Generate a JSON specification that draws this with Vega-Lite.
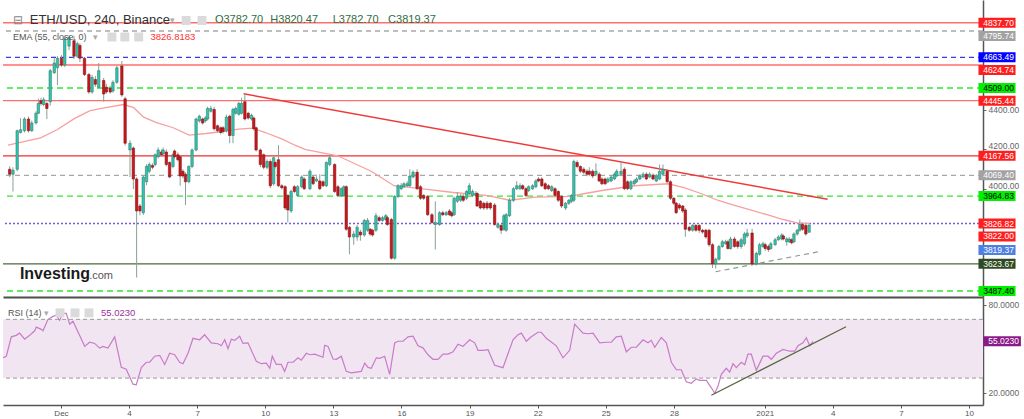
{
"$schema": "https://vega.github.io/schema/vega-lite/v6.json",
"padding": 0,
"background": "#ffffff",
"spacing": 0,
"config": {"view": {"stroke": null}, "font": "Liberation Sans", "concat": {"spacing": 0}},
"datasets": {
"levels": [
{"p":4837.70,"kind":"red"},{"p":4795.74,"kind":"grey"},{"p":4663.49,"kind":"blue"},{"p":4624.74,"kind":"red"},{"p":4509.00,"kind":"green"},{"p":4445.44,"kind":"red"},{"p":4167.56,"kind":"red1"},{"p":4069.40,"kind":"grey"},{"p":3964.83,"kind":"green"},{"p":3826.82,"kind":"dotted"},{"p":3623.67,"kind":"dark"},{"p":3487.40,"kind":"green"}
],
"tags": [
{"p":4837.70,"kind":"red"},{"p":4795.74,"kind":"grey"},{"p":4663.49,"kind":"blue"},{"p":4624.74,"kind":"red"},{"p":4509.00,"kind":"green"},{"p":4445.44,"kind":"red"},{"p":4167.56,"kind":"red"},{"p":4069.40,"kind":"grey"},{"p":3964.83,"kind":"green"},{"p":3826.82,"kind":"red"},{"p":3822.00,"kind":"red"},{"p":3819.37,"kind":"price"},{"p":3623.67,"kind":"dark"},{"p":3487.40,"kind":"green"}
],
"trends": [
{"name":"res","t":190.3,"p":4480},{"name":"res","t":814.1,"p":3949},
{"name":"sup","t":694.6,"p":3584},{"name":"sup","t":805.6,"p":3686}
],
"ema": [
{"t":-61.3,"p":4221},{"t":-26.4,"p":4258},{"t":-8.5,"p":4300},{"t":9.5,"p":4355},{"t":26.4,"p":4395},{"t":44.4,"p":4411},{"t":62.4,"p":4426},{"t":73.0,"p":4410},{"t":83.5,"p":4362},{"t":97.3,"p":4335},{"t":115.2,"p":4309},{"t":132.2,"p":4272},{"t":150.1,"p":4280},{"t":168.1,"p":4290},{"t":185.0,"p":4302},{"t":199.8,"p":4307},{"t":213.6,"p":4285},{"t":231.6,"p":4252},{"t":245.3,"p":4221},{"t":255.9,"p":4200},{"t":290.8,"p":4168},{"t":326.7,"p":4090},{"t":351.0,"p":4017},{"t":379.6,"p":4002},{"t":414.5,"p":3983},{"t":449.4,"p":3968},{"t":474.7,"p":3944},{"t":502.2,"p":3960},{"t":538.2,"p":3963},{"t":555.1,"p":3978},{"t":573.1,"p":3993},{"t":608.0,"p":4017},{"t":643.9,"p":4027},{"t":660.8,"p":4007},{"t":678.8,"p":3978},{"t":696.8,"p":3944},{"t":713.7,"p":3920},{"t":731.7,"p":3895},{"t":749.6,"p":3871},{"t":766.6,"p":3847},{"t":781.4,"p":3830},{"t":795.1,"p":3826.8}
],
"candles": [
{"t":-59.5,"o":4100,"h":4115,"l":4060,"c":4075},
{"t":-56.0,"o":4075,"h":4110,"l":3988,"c":4095},
{"t":-51.5,"o":4100,"h":4300,"l":4090,"c":4294},
{"t":-47.9,"o":4285,"h":4357,"l":4280,"c":4299},
{"t":-43.7,"o":4294,"h":4362,"l":4285,"c":4353},
{"t":-39.4,"o":4353,"h":4365,"l":4285,"c":4294},
{"t":-35.9,"o":4294,"h":4345,"l":4288,"c":4333},
{"t":-31.4,"o":4333,"h":4392,"l":4325,"c":4382},
{"t":-28.9,"o":4382,"h":4455,"l":4377,"c":4431},
{"t":-26.1,"o":4445,"h":4460,"l":4420,"c":4431},
{"t":-23.3,"o":4426,"h":4462,"l":4418,"c":4450},
{"t":-19.8,"o":4431,"h":4440,"l":4353,"c":4406},
{"t":-16.2,"o":4440,"h":4605,"l":4420,"c":4596},
{"t":-11.9,"o":4586,"h":4659,"l":4580,"c":4635},
{"t":-8.5,"o":4611,"h":4670,"l":4523,"c":4659},
{"t":-4.2,"o":4659,"h":4675,"l":4615,"c":4625},
{"t":-0.7,"o":4625,"h":4767,"l":4615,"c":4757},
{"t":3.9,"o":4720,"h":4775,"l":4700,"c":4762},
{"t":9.2,"o":4747,"h":4772,"l":4655,"c":4669},
{"t":12.7,"o":4669,"h":4742,"l":4660,"c":4732},
{"t":15.5,"o":4723,"h":4735,"l":4640,"c":4659},
{"t":20.4,"o":4659,"h":4665,"l":4570,"c":4577},
{"t":25.1,"o":4577,"h":4585,"l":4480,"c":4489},
{"t":28.5,"o":4489,"h":4575,"l":4480,"c":4562},
{"t":32.0,"o":4552,"h":4570,"l":4515,"c":4528},
{"t":35.6,"o":4513,"h":4635,"l":4505,"c":4596},
{"t":40.9,"o":4547,"h":4560,"l":4440,"c":4479},
{"t":43.7,"o":4513,"h":4530,"l":4480,"c":4489},
{"t":47.9,"o":4508,"h":4520,"l":4480,"c":4489},
{"t":50.8,"o":4494,"h":4548,"l":4485,"c":4538},
{"t":55.0,"o":4538,"h":4620,"l":4530,"c":4611},
{"t":60.3,"o":4620,"h":4645,"l":4465,"c":4474},
{"t":63.8,"o":4455,"h":4465,"l":4220,"c":4231},
{"t":69.0,"o":4197,"h":4246,"l":4061,"c":4231},
{"t":72.6,"o":4207,"h":4215,"l":4000,"c":4051},
{"t":76.1,"o":4051,"h":4060,"l":3555,"c":3890},
{"t":79.6,"o":3915,"h":3925,"l":3868,"c":3890},
{"t":83.2,"o":3881,"h":4070,"l":3870,"c":4061},
{"t":86.7,"o":4037,"h":4125,"l":4020,"c":4114},
{"t":89.6,"o":4090,"h":4135,"l":4080,"c":4124},
{"t":93.0,"o":4119,"h":4130,"l":4100,"c":4110},
{"t":95.9,"o":4124,"h":4180,"l":4115,"c":4173},
{"t":99.1,"o":4163,"h":4210,"l":4155,"c":4197},
{"t":102.6,"o":4187,"h":4200,"l":4165,"c":4173},
{"t":104.4,"o":4178,"h":4210,"l":4170,"c":4197},
{"t":107.8,"o":4187,"h":4200,"l":4115,"c":4124},
{"t":111.3,"o":4134,"h":4140,"l":4055,"c":4061},
{"t":114.9,"o":4114,"h":4180,"l":4105,"c":4173},
{"t":116.6,"o":4192,"h":4200,"l":4155,"c":4163},
{"t":120.2,"o":4173,"h":4185,"l":4140,"c":4148},
{"t":122.6,"o":4163,"h":4170,"l":4017,"c":4066},
{"t":125.5,"o":4090,"h":4100,"l":4055,"c":4066},
{"t":128.3,"o":4075,"h":4085,"l":3920,"c":4037},
{"t":131.8,"o":4037,"h":4120,"l":4030,"c":4114},
{"t":135.3,"o":4114,"h":4205,"l":4105,"c":4197},
{"t":139.6,"o":4197,"h":4360,"l":4190,"c":4353},
{"t":143.1,"o":4343,"h":4375,"l":4335,"c":4367},
{"t":146.6,"o":4353,"h":4360,"l":4325,"c":4333},
{"t":149.4,"o":4343,"h":4368,"l":4335,"c":4358},
{"t":151.9,"o":4353,"h":4415,"l":4345,"c":4406},
{"t":155.4,"o":4392,"h":4420,"l":4385,"c":4406},
{"t":158.9,"o":4401,"h":4415,"l":4295,"c":4304},
{"t":162.5,"o":4319,"h":4325,"l":4285,"c":4294},
{"t":166.0,"o":4309,"h":4315,"l":4275,"c":4285},
{"t":168.4,"o":4309,"h":4318,"l":4280,"c":4290},
{"t":172.0,"o":4294,"h":4375,"l":4285,"c":4363},
{"t":175.5,"o":4367,"h":4375,"l":4231,"c":4270},
{"t":179.0,"o":4270,"h":4410,"l":4231,"c":4401},
{"t":181.9,"o":4382,"h":4416,"l":4375,"c":4406},
{"t":185.3,"o":4377,"h":4440,"l":4370,"c":4431},
{"t":188.2,"o":4382,"h":4460,"l":4375,"c":4431},
{"t":191.7,"o":4440,"h":4479,"l":4345,"c":4353},
{"t":195.3,"o":4382,"h":4390,"l":4350,"c":4358},
{"t":198.8,"o":4353,"h":4380,"l":4345,"c":4372},
{"t":201.2,"o":4358,"h":4365,"l":4295,"c":4304},
{"t":203.7,"o":4309,"h":4315,"l":4190,"c":4197},
{"t":208.3,"o":4197,"h":4205,"l":4110,"c":4124},
{"t":211.8,"o":4173,"h":4180,"l":4100,"c":4110},
{"t":215.4,"o":4110,"h":4150,"l":4100,"c":4139},
{"t":218.9,"o":4139,"h":4150,"l":4005,"c":4017},
{"t":222.4,"o":4027,"h":4165,"l":4017,"c":4158},
{"t":224.1,"o":4134,"h":4140,"l":4105,"c":4114},
{"t":227.6,"o":4148,"h":4221,"l":4010,"c":4017},
{"t":231.2,"o":4017,"h":4025,"l":3998,"c":4007},
{"t":234.7,"o":4012,"h":4020,"l":3895,"c":3905},
{"t":237.6,"o":3968,"h":3975,"l":3832,"c":3895},
{"t":241.1,"o":3890,"h":3998,"l":3880,"c":3988},
{"t":244.6,"o":4012,"h":4020,"l":3980,"c":3988},
{"t":248.1,"o":3968,"h":4020,"l":3960,"c":4012},
{"t":252.4,"o":4012,"h":4070,"l":4005,"c":4061},
{"t":255.1,"o":4051,"h":4060,"l":3995,"c":4002},
{"t":261.2,"o":4002,"h":4100,"l":3995,"c":4090},
{"t":264.6,"o":4061,"h":4070,"l":4020,"c":4027},
{"t":268.2,"o":4041,"h":4065,"l":4035,"c":4051},
{"t":271.7,"o":4041,"h":4075,"l":3995,"c":4002},
{"t":275.2,"o":4037,"h":4045,"l":4010,"c":4017},
{"t":278.8,"o":4017,"h":4140,"l":4010,"c":4134},
{"t":282.3,"o":4124,"h":4173,"l":4115,"c":4158},
{"t":287.6,"o":4124,"h":4130,"l":3980,"c":3988},
{"t":291.1,"o":4012,"h":4020,"l":3960,"c":3968},
{"t":294.7,"o":3968,"h":4010,"l":3960,"c":4002},
{"t":297.4,"o":3968,"h":4020,"l":3960,"c":4012},
{"t":300.0,"o":4012,"h":4020,"l":3790,"c":3798},
{"t":303.4,"o":3808,"h":3815,"l":3672,"c":3759},
{"t":308.0,"o":3759,"h":3790,"l":3720,"c":3774},
{"t":311.6,"o":3759,"h":3820,"l":3740,"c":3808},
{"t":315.1,"o":3784,"h":3795,"l":3740,"c":3769},
{"t":319.3,"o":3769,"h":3850,"l":3760,"c":3842},
{"t":322.8,"o":3793,"h":3855,"l":3785,"c":3842},
{"t":325.6,"o":3798,"h":3805,"l":3765,"c":3774},
{"t":328.1,"o":3793,"h":3800,"l":3760,"c":3769},
{"t":331.7,"o":3793,"h":3880,"l":3785,"c":3866},
{"t":335.2,"o":3856,"h":3866,"l":3835,"c":3842},
{"t":338.7,"o":3842,"h":3866,"l":3835,"c":3856},
{"t":342.2,"o":3847,"h":3875,"l":3840,"c":3866},
{"t":343.9,"o":3856,"h":3866,"l":3815,"c":3822},
{"t":348.2,"o":3847,"h":3855,"l":3645,"c":3652},
{"t":351.8,"o":3652,"h":3970,"l":3645,"c":3963},
{"t":355.3,"o":3963,"h":4025,"l":3955,"c":4017},
{"t":358.7,"o":4002,"h":4030,"l":3995,"c":4017},
{"t":361.6,"o":4012,"h":4035,"l":4005,"c":4027},
{"t":365.1,"o":4017,"h":4040,"l":4010,"c":4027},
{"t":367.9,"o":4017,"h":4100,"l":4010,"c":4066},
{"t":371.4,"o":4061,"h":4095,"l":4055,"c":4085},
{"t":375.7,"o":4085,"h":4100,"l":3995,"c":4002},
{"t":379.3,"o":4012,"h":4020,"l":3945,"c":3954},
{"t":382.7,"o":3968,"h":3975,"l":3945,"c":3954},
{"t":387.0,"o":3963,"h":3970,"l":3865,"c":3871},
{"t":391.5,"o":3871,"h":3880,"l":3825,"c":3832},
{"t":395.1,"o":3822,"h":3939,"l":3696,"c":3832},
{"t":399.7,"o":3822,"h":3890,"l":3815,"c":3881},
{"t":403.1,"o":3881,"h":3890,"l":3865,"c":3871},
{"t":406.7,"o":3871,"h":3890,"l":3865,"c":3881},
{"t":410.2,"o":3890,"h":3900,"l":3865,"c":3871},
{"t":412.7,"o":3881,"h":3890,"l":3858,"c":3866},
{"t":415.2,"o":3871,"h":3962,"l":3865,"c":3954},
{"t":418.7,"o":3939,"h":3985,"l":3930,"c":3963},
{"t":422.2,"o":3944,"h":3975,"l":3935,"c":3963},
{"t":425.0,"o":3963,"h":3975,"l":3935,"c":3944},
{"t":428.5,"o":3954,"h":3995,"l":3945,"c":3988},
{"t":431.4,"o":3978,"h":4030,"l":3970,"c":4017},
{"t":434.9,"o":3968,"h":3998,"l":3960,"c":3988},
{"t":438.5,"o":3968,"h":3990,"l":3960,"c":3978},
{"t":439.8,"o":3978,"h":3985,"l":3910,"c":3915},
{"t":443.3,"o":3939,"h":3945,"l":3898,"c":3905},
{"t":446.9,"o":3929,"h":3935,"l":3895,"c":3905},
{"t":450.4,"o":3929,"h":3940,"l":3895,"c":3905},
{"t":453.9,"o":3929,"h":3935,"l":3895,"c":3905},
{"t":458.5,"o":3920,"h":3930,"l":3815,"c":3822},
{"t":462.0,"o":3808,"h":3830,"l":3800,"c":3822},
{"t":465.5,"o":3817,"h":3825,"l":3775,"c":3793},
{"t":468.4,"o":3798,"h":3875,"l":3790,"c":3866},
{"t":470.8,"o":3793,"h":3880,"l":3785,"c":3871},
{"t":474.4,"o":3866,"h":3955,"l":3860,"c":3944},
{"t":478.6,"o":3944,"h":4010,"l":3935,"c":4002},
{"t":482.1,"o":4002,"h":4040,"l":3995,"c":4017},
{"t":485.6,"o":4002,"h":4030,"l":3995,"c":4017},
{"t":488.5,"o":4017,"h":4025,"l":3995,"c":4002},
{"t":492.0,"o":4002,"h":4010,"l":3960,"c":3968},
{"t":494.8,"o":3993,"h":4020,"l":3985,"c":4012},
{"t":499.0,"o":4002,"h":4025,"l":3995,"c":4017},
{"t":502.5,"o":4012,"h":4050,"l":4005,"c":4041},
{"t":505.4,"o":4051,"h":4060,"l":4035,"c":4041},
{"t":508.9,"o":4051,"h":4060,"l":4010,"c":4017},
{"t":512.5,"o":4027,"h":4035,"l":3995,"c":4002},
{"t":516.0,"o":4017,"h":4025,"l":3995,"c":4002},
{"t":519.5,"o":3993,"h":4020,"l":3985,"c":4012},
{"t":523.0,"o":4002,"h":4010,"l":3960,"c":3968},
{"t":526.5,"o":3988,"h":3995,"l":3935,"c":3944},
{"t":530.0,"o":3963,"h":3970,"l":3905,"c":3915},
{"t":534.3,"o":3905,"h":3935,"l":3895,"c":3929},
{"t":537.8,"o":3929,"h":3950,"l":3920,"c":3944},
{"t":540.6,"o":3939,"h":3975,"l":3930,"c":3968},
{"t":543.1,"o":3944,"h":4148,"l":3935,"c":4139},
{"t":546.6,"o":4134,"h":4145,"l":4105,"c":4114},
{"t":550.1,"o":4114,"h":4120,"l":4080,"c":4090},
{"t":553.7,"o":4100,"h":4110,"l":4075,"c":4085},
{"t":557.2,"o":4090,"h":4100,"l":4065,"c":4075},
{"t":559.6,"o":4090,"h":4110,"l":4065,"c":4075},
{"t":563.2,"o":4090,"h":4100,"l":4055,"c":4066},
{"t":566.7,"o":4075,"h":4130,"l":4065,"c":4090},
{"t":570.2,"o":4075,"h":4085,"l":4035,"c":4041},
{"t":573.1,"o":4051,"h":4060,"l":4020,"c":4027},
{"t":576.5,"o":4051,"h":4058,"l":4020,"c":4027},
{"t":579.4,"o":4037,"h":4060,"l":4030,"c":4051},
{"t":582.9,"o":4041,"h":4070,"l":4035,"c":4061},
{"t":586.5,"o":4051,"h":4085,"l":4045,"c":4075},
{"t":588.9,"o":4066,"h":4100,"l":4060,"c":4090},
{"t":593.5,"o":4075,"h":4134,"l":4065,"c":4090},
{"t":597.1,"o":4100,"h":4110,"l":3995,"c":4002},
{"t":600.5,"o":4037,"h":4045,"l":3995,"c":4002},
{"t":604.0,"o":4002,"h":4045,"l":3995,"c":4037},
{"t":607.6,"o":4027,"h":4050,"l":4020,"c":4041},
{"t":610.1,"o":4037,"h":4060,"l":4030,"c":4051},
{"t":613.6,"o":4051,"h":4075,"l":4045,"c":4066},
{"t":617.1,"o":4061,"h":4085,"l":4055,"c":4075},
{"t":620.6,"o":4075,"h":4085,"l":4045,"c":4051},
{"t":624.1,"o":4061,"h":4085,"l":4055,"c":4075},
{"t":627.7,"o":4070,"h":4080,"l":4045,"c":4051},
{"t":631.2,"o":4041,"h":4075,"l":4035,"c":4066},
{"t":634.7,"o":4051,"h":4124,"l":4045,"c":4090},
{"t":638.3,"o":4075,"h":4124,"l":4065,"c":4100},
{"t":642.8,"o":4090,"h":4100,"l":4030,"c":4037},
{"t":646.3,"o":4037,"h":4045,"l":3945,"c":3954},
{"t":649.9,"o":3954,"h":3960,"l":3920,"c":3929},
{"t":652.4,"o":3929,"h":3935,"l":3875,"c":3881},
{"t":655.8,"o":3920,"h":3930,"l":3895,"c":3905},
{"t":659.4,"o":3915,"h":3920,"l":3880,"c":3890},
{"t":662.2,"o":3895,"h":3905,"l":3760,"c":3798},
{"t":666.4,"o":3808,"h":3815,"l":3785,"c":3793},
{"t":670.0,"o":3793,"h":3825,"l":3785,"c":3817},
{"t":673.5,"o":3817,"h":3825,"l":3785,"c":3793},
{"t":677.0,"o":3817,"h":3825,"l":3780,"c":3793},
{"t":680.6,"o":3793,"h":3800,"l":3775,"c":3784},
{"t":684.1,"o":3793,"h":3800,"l":3750,"c":3759},
{"t":687.6,"o":3793,"h":3800,"l":3710,"c":3720},
{"t":691.2,"o":3720,"h":3728,"l":3603,"c":3623},
{"t":694.6,"o":3623,"h":3655,"l":3600,"c":3647},
{"t":698.1,"o":3647,"h":3720,"l":3640,"c":3711},
{"t":701.7,"o":3711,"h":3745,"l":3705,"c":3735},
{"t":705.2,"o":3725,"h":3745,"l":3720,"c":3735},
{"t":707.7,"o":3735,"h":3745,"l":3695,"c":3701},
{"t":710.5,"o":3701,"h":3760,"l":3695,"c":3749},
{"t":714.7,"o":3749,"h":3760,"l":3705,"c":3711},
{"t":718.2,"o":3735,"h":3742,"l":3700,"c":3711},
{"t":721.8,"o":3711,"h":3755,"l":3700,"c":3745},
{"t":725.3,"o":3725,"h":3785,"l":3715,"c":3774},
{"t":728.2,"o":3764,"h":3800,"l":3755,"c":3779},
{"t":733.5,"o":3779,"h":3800,"l":3615,"c":3623},
{"t":738.0,"o":3623,"h":3685,"l":3615,"c":3676},
{"t":741.5,"o":3672,"h":3730,"l":3665,"c":3720},
{"t":745.1,"o":3711,"h":3735,"l":3705,"c":3725},
{"t":747.5,"o":3720,"h":3730,"l":3690,"c":3701},
{"t":751.0,"o":3711,"h":3720,"l":3685,"c":3696},
{"t":753.5,"o":3701,"h":3735,"l":3695,"c":3725},
{"t":758.1,"o":3720,"h":3755,"l":3715,"c":3745},
{"t":761.6,"o":3745,"h":3768,"l":3740,"c":3759},
{"t":765.2,"o":3749,"h":3778,"l":3742,"c":3769},
{"t":766.9,"o":3764,"h":3772,"l":3742,"c":3749},
{"t":770.5,"o":3735,"h":3758,"l":3715,"c":3749},
{"t":773.2,"o":3735,"h":3758,"l":3728,"c":3749},
{"t":775.7,"o":3745,"h":3752,"l":3722,"c":3730},
{"t":778.2,"o":3735,"h":3782,"l":3728,"c":3774},
{"t":781.7,"o":3774,"h":3800,"l":3765,"c":3793},
{"t":784.5,"o":3793,"h":3847,"l":3785,"c":3822},
{"t":787.4,"o":3822,"h":3830,"l":3790,"c":3798},
{"t":790.9,"o":3817,"h":3825,"l":3765,"c":3774},
{"t":794.4,"o":3782.70,"h":3820.47,"l":3782.70,"c":3819.37}
],
"rsi": [
{"t":-61.3,"r":43.8},{"t":-57.8,"r":44.9},{"t":-52.5,"r":58.1},{"t":-47.3,"r":59.1},{"t":-43.7,"r":60.6},{"t":-38.4,"r":56.5},{"t":-33.1,"r":59.1},{"t":-27.8,"r":62.2},{"t":-26.1,"r":64.7},{"t":-20.8,"r":63.2},{"t":-19.0,"r":62.2},{"t":-13.7,"r":70.0},{"t":-8.5,"r":72.0},{"t":-5.0,"r":72.8},{"t":-1.4,"r":69.3},{"t":2.1,"r":74.0},{"t":5.6,"r":74.0},{"t":9.2,"r":66.7},{"t":12.7,"r":68.7},{"t":25.1,"r":51.6},{"t":30.3,"r":54.4},{"t":35.6,"r":53.6},{"t":40.9,"r":50.4},{"t":44.4,"r":51.6},{"t":49.7,"r":50.4},{"t":56.8,"r":58.1},{"t":63.8,"r":37.3},{"t":69.0,"r":36.1},{"t":76.1,"r":25.9},{"t":79.6,"r":25.5},{"t":84.9,"r":37.1},{"t":90.2,"r":40.8},{"t":93.8,"r":40.8},{"t":99.1,"r":44.9},{"t":104.4,"r":45.5},{"t":109.6,"r":39.3},{"t":114.9,"r":46.9},{"t":120.2,"r":45.9},{"t":125.5,"r":40.8},{"t":129.0,"r":39.8},{"t":134.3,"r":46.9},{"t":139.6,"r":57.1},{"t":146.6,"r":56.1},{"t":151.9,"r":59.5},{"t":158.9,"r":54.0},{"t":166.0,"r":53.4},{"t":169.5,"r":52.0},{"t":173.1,"r":56.1},{"t":176.6,"r":50.0},{"t":180.1,"r":56.5},{"t":183.7,"r":55.7},{"t":188.9,"r":58.5},{"t":192.4,"r":53.6},{"t":197.7,"r":54.0},{"t":206.5,"r":41.4},{"t":211.8,"r":39.8},{"t":217.1,"r":40.2},{"t":220.7,"r":36.7},{"t":223.4,"r":44.9},{"t":227.6,"r":39.3},{"t":232.9,"r":39.3},{"t":236.5,"r":34.6},{"t":240.0,"r":40.8},{"t":245.3,"r":40.8},{"t":250.6,"r":43.8},{"t":254.1,"r":42.2},{"t":259.4,"r":46.9},{"t":262.9,"r":45.9},{"t":268.2,"r":46.3},{"t":277.0,"r":44.2},{"t":278.8,"r":52.4},{"t":282.3,"r":51.6},{"t":287.6,"r":43.0},{"t":291.1,"r":42.8},{"t":296.4,"r":44.9},{"t":301.6,"r":34.6},{"t":306.9,"r":33.6},{"t":317.5,"r":34.6},{"t":321.1,"r":40.2},{"t":324.6,"r":37.3},{"t":328.1,"r":36.7},{"t":333.4,"r":43.8},{"t":337.0,"r":43.4},{"t":342.2,"r":44.9},{"t":347.5,"r":32.6},{"t":352.8,"r":54.0},{"t":356.3,"r":55.1},{"t":361.6,"r":55.1},
{"t":366.9,"r":58.1},{"t":372.2,"r":58.5},{"t":377.5,"r":52.0},{"t":382.7,"r":50.6},{"t":388.0,"r":45.9},{"t":393.3,"r":42.8},{"t":398.6,"r":42.8},{"t":403.9,"r":46.3},{"t":409.2,"r":46.3},{"t":414.5,"r":47.9},{"t":419.7,"r":53.0},{"t":425.0,"r":51.6},{"t":432.1,"r":56.1},{"t":437.4,"r":54.0},{"t":440.9,"r":48.9},{"t":446.2,"r":48.9},{"t":451.5,"r":49.3},{"t":458.5,"r":38.7},{"t":467.3,"r":37.1},{"t":477.9,"r":56.1},{"t":483.2,"r":59.5},{"t":486.7,"r":60.6},{"t":492.0,"r":55.1},{"t":497.2,"r":58.1},{"t":504.3,"r":61.2},{"t":507.8,"r":61.2},{"t":513.1,"r":57.1},{"t":523.7,"r":52.0},{"t":530.7,"r":43.8},{"t":537.8,"r":48.9},{"t":543.1,"r":66.7},{"t":551.9,"r":60.6},{"t":557.2,"r":60.2},{"t":562.5,"r":60.6},{"t":569.6,"r":54.0},{"t":576.5,"r":54.4},{"t":581.8,"r":54.4},{"t":587.1,"r":58.1},{"t":592.4,"r":58.5},{"t":597.7,"r":47.9},{"t":603.0,"r":51.0},{"t":608.3,"r":51.0},{"t":615.4,"r":56.1},{"t":620.6,"r":54.0},{"t":624.1,"r":55.7},{"t":627.7,"r":51.0},{"t":634.7,"r":57.7},{"t":640.0,"r":54.0},{"t":645.3,"r":40.8},{"t":650.6,"r":35.7},{"t":655.8,"r":35.7},{"t":661.1,"r":27.5},{"t":666.4,"r":26.5},{"t":671.7,"r":29.5},{"t":675.3,"r":28.5},{"t":682.3,"r":28.5},{"t":687.6,"r":23.4},{"t":691.2,"r":19.7},{"t":694.6,"r":24.4},{"t":698.1,"r":32.6},{"t":703.4,"r":36.7},{"t":707.0,"r":34.1},{"t":710.5,"r":39.8},{"t":714.0,"r":37.1},{"t":719.3,"r":40.8},{"t":722.9,"r":39.1},{"t":726.3,"r":46.3},{"t":729.8,"r":46.3},{"t":735.1,"r":35.3},{"t":742.2,"r":44.9},{"t":747.5,"r":44.9},{"t":751.0,"r":42.8},{"t":756.3,"r":46.9},{"t":763.4,"r":49.5},{"t":770.5,"r":48.3},{"t":775.7,"r":48.3},{"t":779.2,"r":52.0},{"t":784.5,"r":54.0},{"t":788.0,"r":57.5},{"t":791.6,"r":52.0},{"t":795.1,"r":55.023}
]
},
"vconcat": [
{
"width": 980,
"height": 297,
"resolve": {"scale": {"color": "independent", "strokeDash": "independent"}},
"layer": [
{"data": {"name": "levels"}, "mark": {"type": "rule", "strokeWidth": 1.4},
 "encoding": {
  "y": {"field": "p", "type": "quantitative", "title": null, "scale": {"domain": [3482, 4927], "nice": false, "zero": false},
   "axis": {"orient": "right", "values": [4000, 4200, 4400], "format": ".2f", "labelFontSize": 8.5, "labelColor": "#666666", "tickSize": 3, "tickColor": "#666666", "domainColor": "#555555", "domainWidth": 1.5, "labelPadding": 2, "grid": false, "title": null, "labelFont": "Liberation Sans", "zindex": 0,
    "labelOffset": {"condition": {"test": "datum.value == 4400", "value": 0}, "value": -3.5}}},
  "color": {"field": "kind", "type": "nominal", "legend": null,
   "scale": {"domain": ["red", "red1", "grey", "blue", "green", "dotted", "dark"], "range": ["#ff6e6e", "#ee2e2e", "#a8a8a8", "#3a3af0", "#33e633", "#7a5cd6", "#4c6a3b"]}},
  "strokeDash": {"field": "kind", "type": "nominal", "legend": null,
   "scale": {"domain": ["red", "red1", "grey", "blue", "green", "dotted", "dark"], "range": [[1, 0], [1, 0], [5, 4], [5, 4], [6, 4], [2, 2], [1, 0]]}}
 }},
{"data": {"name": "trends"}, "transform": [{"filter": "datum.name == 'res'"}],
 "mark": {"type": "line", "color": "#f03a3a", "strokeWidth": 1.5},
 "encoding": {"x": {"field": "t", "type": "quantitative", "title": null, "scale": {"domain": [-61.3, 974.8], "nice": false, "zero": false},
   "axis": {"orient": "bottom", "labels": false, "ticks": false, "domain": true, "domainColor": "#4d4d4d", "domainWidth": 2, "grid": false, "title": null}},
  "y": {"field": "p", "type": "quantitative", "title": null}}},
{"data": {"name": "trends"}, "transform": [{"filter": "datum.name == 'sup'"}],
 "mark": {"type": "line", "color": "#8c9c8c", "strokeWidth": 1.2, "strokeDash": [5, 4]},
 "encoding": {"x": {"field": "t", "type": "quantitative", "title": null},
  "y": {"field": "p", "type": "quantitative", "title": null}}},
{"data": {"name": "ema"}, "mark": {"type": "line", "color": "#f6a0a0", "strokeWidth": 1.3},
 "encoding": {"x": {"field": "t", "type": "quantitative", "title": null},
  "y": {"field": "p", "type": "quantitative", "title": null}}},
{"data": {"name": "candles"}, "mark": {"type": "rule", "color": "#86a294", "strokeWidth": 1},
 "encoding": {"x": {"field": "t", "type": "quantitative", "title": null},
  "y": {"field": "l", "type": "quantitative", "title": null}, "y2": {"field": "h"}}},
{"data": {"name": "candles"}, "mark": {"type": "bar", "width": 2.4, "strokeWidth": 0.6},
 "encoding": {"x": {"field": "t", "type": "quantitative", "title": null},
  "y": {"field": "o", "type": "quantitative", "title": null}, "y2": {"field": "c"},
  "color": {"condition": {"test": "datum.c >= datum.o", "value": "#2cc7b5"}, "value": "#c8171d"},
  "stroke": {"condition": {"test": "datum.c >= datum.o", "value": "#3d7a68"}, "value": "#8a1417"}}},
{"data": {"name": "tags"}, "transform": [{"filter": "datum.p != 4795.74 && datum.p != 4624.74 && datum.p != 3822 && datum.p != 3819.37"}],
 "mark": {"type": "bar", "size": 10},
 "encoding": {"x": {"datum": 975.3, "type": "quantitative", "title": null}, "x2": {"datum": 1014.9},
  "y": {"field": "p", "type": "quantitative", "title": null},
  "color": {"field": "kind", "type": "nominal", "legend": null, "scale": {"domain": ["red", "grey", "blue", "green", "price", "dark"], "range": ["#ff1e1e", "#a2a2a2", "#0000ff", "#00f000", "#4e7fe2", "#2e4a20"]}}}},
{"data": {"name": "tags"}, "transform": [{"filter": "datum.p != 4795.74 && datum.p != 4624.74 && datum.p != 3822 && datum.p != 3819.37"}],
 "mark": {"type": "text", "align": "left", "baseline": "middle", "fontSize": 8.5, "font": "Liberation Sans"},
 "encoding": {"x": {"datum": 980.3, "type": "quantitative", "title": null},
  "y": {"field": "p", "type": "quantitative", "title": null},
  "text": {"field": "p", "type": "quantitative", "format": ".2f"},
  "color": {"condition": {"test": "datum.kind == 'green'", "value": "#000000"}, "value": "#ffffff"}}},
{"data": {"name": "tags"}, "transform": [{"filter": "datum.p == 4795.74 || datum.p == 4624.74"}],
 "mark": {"type": "bar", "size": 10, "yOffset": 5},
 "encoding": {"x": {"datum": 975.3, "type": "quantitative", "title": null}, "x2": {"datum": 1014.9},
  "y": {"field": "p", "type": "quantitative", "title": null},
  "color": {"field": "kind", "type": "nominal", "legend": null, "scale": {"domain": ["red", "grey", "blue", "green", "price", "dark"], "range": ["#ff1e1e", "#a2a2a2", "#0000ff", "#00f000", "#4e7fe2", "#2e4a20"]}}}},
{"data": {"name": "tags"}, "transform": [{"filter": "datum.p == 4795.74 || datum.p == 4624.74"}],
 "mark": {"type": "text", "align": "left", "baseline": "middle", "fontSize": 8.5, "font": "Liberation Sans", "yOffset": 5},
 "encoding": {"x": {"datum": 980.3, "type": "quantitative", "title": null},
  "y": {"field": "p", "type": "quantitative", "title": null},
  "text": {"field": "p", "type": "quantitative", "format": ".2f"},
  "color": {"value": "#ffffff"}}},
{"data": {"name": "tags"}, "transform": [{"filter": "datum.p == 3822"}],
 "mark": {"type": "bar", "size": 10, "yOffset": 12},
 "encoding": {"x": {"datum": 975.3, "type": "quantitative", "title": null}, "x2": {"datum": 1014.9},
  "y": {"field": "p", "type": "quantitative", "title": null},
  "color": {"value": "#ff1e1e"}}},
{"data": {"name": "tags"}, "transform": [{"filter": "datum.p == 3822"}],
 "mark": {"type": "text", "align": "left", "baseline": "middle", "fontSize": 8.5, "font": "Liberation Sans", "yOffset": 12},
 "encoding": {"x": {"datum": 980.3, "type": "quantitative", "title": null},
  "y": {"field": "p", "type": "quantitative", "title": null},
  "text": {"field": "p", "type": "quantitative", "format": ".2f"},
  "color": {"value": "#ffffff"}}},
{"data": {"name": "tags"}, "transform": [{"filter": "datum.p == 3819.37"}],
 "mark": {"type": "bar", "size": 10, "yOffset": 25},
 "encoding": {"x": {"datum": 975.3, "type": "quantitative", "title": null}, "x2": {"datum": 1014.9},
  "y": {"field": "p", "type": "quantitative", "title": null},
  "color": {"value": "#4e7fe2"}}},
{"data": {"name": "tags"}, "transform": [{"filter": "datum.p == 3819.37"}],
 "mark": {"type": "text", "align": "left", "baseline": "middle", "fontSize": 8.5, "font": "Liberation Sans", "yOffset": 25},
 "encoding": {"x": {"datum": 980.3, "type": "quantitative", "title": null},
  "y": {"field": "p", "type": "quantitative", "title": null},
  "text": {"field": "p", "type": "quantitative", "format": ".2f"},
  "color": {"value": "#ffffff"}}},
{"data": {"values": [{"t": -50.7, "p": 4849, "s": "⊟"}]},
 "mark": {"type": "text", "align": "center", "baseline": "middle", "fontSize": 12, "color": "#888888"},
 "encoding": {"x": {"field": "t", "type": "quantitative", "title": null}, "y": {"field": "p", "type": "quantitative", "title": null}, "text": {"field": "s"}}},
{"data": {"values": [{"t": -38.1, "p": 4849, "s": "ETH/USD, 240, Binance"}]},
 "mark": {"type": "text", "align": "left", "baseline": "middle", "fontSize": 13, "color": "#333333", "font": "Liberation Sans"},
 "encoding": {"x": {"field": "t", "type": "quantitative", "title": null}, "y": {"field": "p", "type": "quantitative", "title": null}, "text": {"field": "s"}}},
{"data": {"values": [{"t": 159.7, "p": 4849, "s": "O3782.70"}, {"t": 218.9, "p": 4849, "s": "H3820.47"}, {"t": 285.5, "p": 4849, "s": "L3782.70"}, {"t": 344.7, "p": 4849, "s": "C3819.37"}]},
 "mark": {"type": "text", "align": "left", "baseline": "middle", "fontSize": 11, "color": "#2f6e42", "font": "Liberation Sans"},
 "encoding": {"x": {"field": "t", "type": "quantitative", "title": null}, "y": {"field": "p", "type": "quantitative", "title": null}, "text": {"field": "s"}}},
{"data": {"values": [{"t": 114.2, "p": 4849, "s": "▾"}, {"t": 31.7, "p": 4766, "s": "▾"}]},
 "mark": {"type": "text", "align": "center", "baseline": "middle", "fontSize": 9, "color": "#aaaaaa"},
 "encoding": {"x": {"field": "t", "type": "quantitative", "title": null}, "y": {"field": "p", "type": "quantitative", "title": null}, "text": {"field": "s"}}},
{"data": {"values": [{"t": 129.0, "p": 4849}, {"t": 145.9, "p": 4849}, {"t": 49.7, "p": 4766}, {"t": 63.5, "p": 4766}, {"t": 78.3, "p": 4766}]},
 "mark": {"type": "point", "shape": "square", "filled": true, "color": "#dadada", "size": 80, "opacity": 1},
 "encoding": {"x": {"field": "t", "type": "quantitative", "title": null}, "y": {"field": "p", "type": "quantitative", "title": null}}},
{"data": {"values": [{"t": -56.0, "p": 4766, "s": "EMA (55, close, 0)"}]},
 "mark": {"type": "text", "align": "left", "baseline": "middle", "fontSize": 9, "color": "#555555", "font": "Liberation Sans"},
 "encoding": {"x": {"field": "t", "type": "quantitative", "title": null}, "y": {"field": "p", "type": "quantitative", "title": null}, "text": {"field": "s"}}},
{"data": {"values": [{"t": 90.9, "p": 4766, "s": "3826.8183"}]},
 "mark": {"type": "text", "align": "left", "baseline": "middle", "fontSize": 9.5, "color": "#ff3030", "font": "Liberation Sans"},
 "encoding": {"x": {"field": "t", "type": "quantitative", "title": null}, "y": {"field": "p", "type": "quantitative", "title": null}, "text": {"field": "s"}}},
{"data": {"values": [{"t": -48.6, "p": 3545, "s": "Investing"}]},
 "mark": {"type": "text", "align": "left", "baseline": "alphabetic", "fontSize": 16, "fontWeight": "bold", "color": "#1a1a1a", "font": "Liberation Sans"},
 "encoding": {"x": {"field": "t", "type": "quantitative", "title": null}, "y": {"field": "p", "type": "quantitative", "title": null}, "text": {"field": "s"}}},
{"data": {"values": [{"t": 25.4, "p": 3545, "s": ".com"}]},
 "mark": {"type": "text", "align": "left", "baseline": "alphabetic", "fontSize": 11, "color": "#555555", "font": "Liberation Sans"},
 "encoding": {"x": {"field": "t", "type": "quantitative", "title": null}, "y": {"field": "p", "type": "quantitative", "title": null}, "text": {"field": "s"}}}
]
},
{
"width": 980,
"height": 108,
"layer": [
{"data": {"values": [{"lo": 30, "hi": 70}]}, "mark": {"type": "rect", "color": "#f2e5f2"},
 "encoding": {"y": {"field": "hi", "type": "quantitative", "title": null, "scale": {"domain": [15.1, 81.8], "nice": false, "zero": false},
   "axis": {"orient": "right", "values": [20, 40, 60, 80], "format": ".4f", "labelFontSize": 8.5, "labelColor": "#666666", "tickSize": 3, "tickColor": "#666666", "domainColor": "#555555", "domainWidth": 1.5, "labelPadding": 2, "grid": false, "title": null, "labelFont": "Liberation Sans", "zindex": 0}},
  "y2": {"field": "lo"}}},
{"data": {"values": [{"r": 30}, {"r": 70}]}, "mark": {"type": "rule", "color": "#999999", "strokeDash": [4, 3], "strokeWidth": 1},
 "encoding": {"y": {"field": "r", "type": "quantitative", "title": null}}},
{"data": {"name": "rsi"}, "mark": {"type": "line", "color": "#c77bc9", "strokeWidth": 1.2},
 "encoding": {"x": {"field": "t", "type": "quantitative", "title": null, "scale": {"domain": [-61.3, 974.8], "nice": false, "zero": false},
   "axis": {"orient": "bottom", "values": [0, 72, 144, 216, 288, 360, 432, 504, 576, 648, 744, 816, 888, 960],
    "labelExpr": "datum.value == 0 ? 'Dec' : datum.value == 744 ? '2021' : datum.value < 744 ? '' + (datum.value / 24 + 1) : '' + ((datum.value - 744) / 24 + 1)",
    "labelFontSize": 8, "labelColor": "#555555", "tickSize": 3, "tickColor": "#555555", "domainColor": "#555555", "domainWidth": 1.5, "labelPadding": 1, "grid": false, "title": null, "labelFlush": false, "labelOverlap": false, "labelFont": "Liberation Sans"}},
  "y": {"field": "r", "type": "quantitative", "title": null}}},
{"data": {"values": [{"t": 687.6, "r": 18.3}, {"t": 830.0, "r": 65.0}]}, "mark": {"type": "line", "color": "#56663f", "strokeWidth": 1.2},
 "encoding": {"x": {"field": "t", "type": "quantitative", "title": null}, "y": {"field": "r", "type": "quantitative", "title": null}}},
{"data": {"values": [{"r": 55.023}]}, "mark": {"type": "bar", "size": 10, "color": "#8b1a89"},
 "encoding": {"x": {"datum": 975.3, "type": "quantitative", "title": null}, "x2": {"datum": 1014.9},
  "y": {"field": "r", "type": "quantitative", "title": null}}},
{"data": {"values": [{"r": 55.023}]}, "mark": {"type": "text", "align": "left", "baseline": "middle", "fontSize": 8.5, "color": "#ffffff", "font": "Liberation Sans"},
 "encoding": {"x": {"datum": 980.3, "type": "quantitative", "title": null},
  "y": {"field": "r", "type": "quantitative", "title": null},
  "text": {"field": "r", "type": "quantitative", "format": ".4f"}}},
{"data": {"values": [{"t": -56.0, "r": 74.4, "s": "RSI (14)"}]},
 "mark": {"type": "text", "align": "left", "baseline": "middle", "fontSize": 9, "color": "#555555", "font": "Liberation Sans"},
 "encoding": {"x": {"field": "t", "type": "quantitative", "title": null}, "y": {"field": "r", "type": "quantitative", "title": null}, "text": {"field": "s"}}},
{"data": {"values": [{"t": -15.8, "r": 74.4, "s": "▾"}]},
 "mark": {"type": "text", "align": "center", "baseline": "middle", "fontSize": 9, "color": "#aaaaaa"},
 "encoding": {"x": {"field": "t", "type": "quantitative", "title": null}, "y": {"field": "r", "type": "quantitative", "title": null}, "text": {"field": "s"}}},
{"data": {"values": [{"t": -1.0, "r": 74.4}, {"t": 14.8, "r": 74.4}, {"t": 29.6, "r": 74.4}]},
 "mark": {"type": "point", "shape": "square", "filled": true, "color": "#dadada", "size": 80, "opacity": 1},
 "encoding": {"x": {"field": "t", "type": "quantitative", "title": null}, "y": {"field": "r", "type": "quantitative", "title": null}}},
{"data": {"values": [{"t": 42.3, "r": 74.4, "s": "55.0230"}]},
 "mark": {"type": "text", "align": "left", "baseline": "middle", "fontSize": 9.5, "color": "#9b2f9b", "font": "Liberation Sans"},
 "encoding": {"x": {"field": "t", "type": "quantitative", "title": null}, "y": {"field": "r", "type": "quantitative", "title": null}, "text": {"field": "s"}}}
]
}
]
}
